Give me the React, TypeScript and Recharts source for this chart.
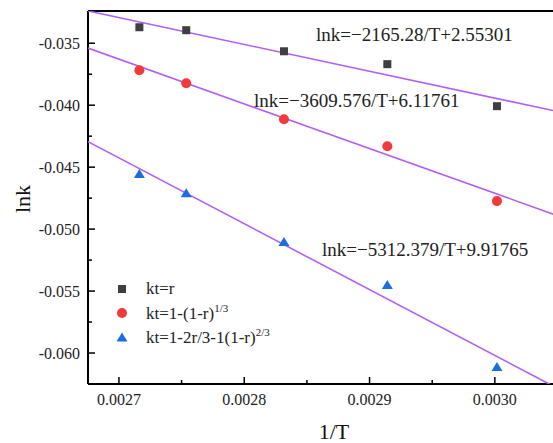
import { ComposedChart, XAxis, YAxis, Scatter, Legend, ReferenceLine } from "recharts";

// 1/T for the five temperatures (333–368 K)
const invT = [0.0027163, 0.0027537, 0.0028317, 0.0029142, 0.0030017];

// lnk for each kinetic model
const lnkR = [-0.03371, -0.03395, -0.03565, -0.03669, -0.04008];
const lnkR13 = [-0.03718, -0.03823, -0.04113, -0.04331, -0.04774];
const lnkR23 = [-0.04556, -0.0471, -0.05105, -0.05452, -0.06113];

// linear fits lnk = a/T + b (axis is plotted in units of 1/100)
const fitSlope = [-2165.28, -3609.576, -5312.379];
const fitIntercept = [2.55301, 6.11761, 9.91765];
const fitLabels = [
  "lnk=\u22122165.28/T+2.55301",
  "lnk=\u22123609.576/T+6.11761",
  "lnk=\u22125312.379/T+9.91765",
];
const fitScale = 0.01;

const xDomain = [0.0026753, 0.003052];
const yDomain = [-0.0625, -0.0324];
const xTicks = [0.0027, 0.00275, 0.0028, 0.00285, 0.0029, 0.00295, 0.003];
const yTicks = [
  -0.06, -0.0575, -0.055, -0.0525, -0.05, -0.0475, -0.045,
  -0.0425, -0.04, -0.0375, -0.035,
];

const legendItems = [
  { base: "kt=r", sup: "" },
  { base: "kt=1-(1-r)", sup: "1/3" },
  { base: "kt=1-2r/3-1(1-r)", sup: "2/3" },
];

const FONT = "'Liberation Serif', 'Times New Roman', serif";
const FIT_COLOR = "#b160f4";
const colors = ["#3f3f3f", "#f23a3a", "#1a6ee0"];

const toPoints = (ys: number[]) => invT.map((x, i) => ({ x, y: ys[i] }));
const fitLine = (k: number) =>
  xDomain.map((x) => ({ x, y: (fitSlope[k] * x + fitIntercept[k]) * fitScale }));

const isMajor = (v: number, step: number) => Math.abs(v / step - Math.round(v / step)) < 1e-6;

const XTick = (props: any) => {
  const { x, y, payload } = props;
  const major = isMajor(payload.value, 0.0001);
  return (
    <g>
      <line x1={x} x2={x} y1={y} y2={y - (major ? 7 : 4)} stroke="#000" strokeWidth={1.5} />
      {major && (
        <text x={x} y={y + 21} textAnchor="middle" fontSize={16} fontFamily={FONT} fill="#222">
          {payload.value.toFixed(4)}
        </text>
      )}
    </g>
  );
};

const YTick = (props: any) => {
  const { x, y, payload } = props;
  const major = isMajor(payload.value, 0.005);
  return (
    <g>
      <line x1={x} x2={x + (major ? 7 : 4)} y1={y} y2={y} stroke="#000" strokeWidth={1.5} />
      {major && (
        <text x={x - 8} y={y + 5.5} textAnchor="end" fontSize={16} fontFamily={FONT} fill="#222">
          {payload.value.toFixed(3)}
        </text>
      )}
    </g>
  );
};

const Square = (p: any) => <rect x={p.cx - 4} y={p.cy - 4} width={8} height={8} fill={colors[0]} />;
const Dot = (p: any) => <circle cx={p.cx} cy={p.cy} r={5} fill={colors[1]} />;
const Tri = (p: any) => (
  <path d={`M${p.cx},${p.cy - 5} L${p.cx + 5.5},${p.cy + 4} L${p.cx - 5.5},${p.cy + 4} Z`} fill={colors[2]} />
);
const NoMark = () => null;

const legendIcons = [
  <rect x={3} y={3} width={8} height={8} fill={colors[0]} />,
  <circle cx={7} cy={7} r={5} fill={colors[1]} />,
  <path d="M7,2.5 L12.5,11.5 L1.5,11.5 Z" fill={colors[2]} />,
];

const LegendBox = () => (
  <div style={{ fontFamily: FONT, fontSize: 17, color: "#222" }}>
    {legendItems.map((it, i) => (
      <div key={it.base} style={{ display: "flex", alignItems: "center", height: 24 }}>
        <svg width={14} height={14} style={{ marginRight: 17 }}>
          {legendIcons[i]}
        </svg>
        <span>
          {it.base}
          {it.sup && <sup style={{ fontSize: 11 }}>{it.sup}</sup>}
        </span>
      </div>
    ))}
  </div>
);

export default function App() {
  return (
    <div style={{ position: "absolute", left: 0, top: 0, width: 553, height: 443, overflow: "hidden", background: "#fff" }}>
      <ComposedChart width={600} height={443} margin={{ top: 11, right: 40, left: 0, bottom: 0 }}>
        <XAxis
          type="number"
          dataKey="x"
          domain={xDomain}
          ticks={xTicks}
          interval={0}
          allowDataOverflow
          height={59}
          tickSize={0}
          tickMargin={0}
          tickLine={false}
          tick={<XTick />}
          axisLine={{ stroke: "#000", strokeWidth: 2 }}
        />
        <YAxis
          type="number"
          dataKey="y"
          domain={yDomain}
          ticks={yTicks}
          interval={0}
          allowDataOverflow
          width={88}
          tickSize={0}
          tickMargin={0}
          tickLine={false}
          tick={<YTick />}
          axisLine={{ stroke: "#000", strokeWidth: 2 }}
        />
        <ReferenceLine y={yDomain[1]} stroke="#000" strokeWidth={2} />

        {[0, 1, 2].map((k) => (
          <Scatter
            key={`fit${k}`}
            data={fitLine(k)}
            shape={NoMark}
            line={{ stroke: FIT_COLOR, strokeWidth: 1.6 }}
            isAnimationActive={false}
            legendType="none"
          />
        ))}
        <Scatter name={legendItems[0].base} data={toPoints(lnkR)} shape={Square} isAnimationActive={false} />
        <Scatter name={legendItems[1].base} data={toPoints(lnkR13)} shape={Dot} isAnimationActive={false} />
        <Scatter name={legendItems[2].base} data={toPoints(lnkR23)} shape={Tri} isAnimationActive={false} />

        <Legend
          layout="vertical"
          align="center"
          verticalAlign="middle"
          content={<LegendBox />}
          wrapperStyle={{ left: 115, top: 277, width: "auto", height: "auto" }}
        />
      </ComposedChart>

      <svg width={553} height={443} style={{ position: "absolute", left: 0, top: 0, pointerEvents: "none" }}>
        <g fontFamily={FONT} fontSize={19} fill="#222">
          <text x={316} y={41}>{fitLabels[0]}</text>
          <text x={254} y={107}>{fitLabels[1]}</text>
          <text x={322} y={256}>{fitLabels[2]}</text>
        </g>
        <text x={30} y={199} transform="rotate(-90 30 199)" textAnchor="middle" fontFamily={FONT} fontSize={22} fill="#111">
          lnk
        </text>
        <text x={334} y={439} textAnchor="middle" fontFamily={FONT} fontSize={22} fill="#111">
          1/T
        </text>
      </svg>
    </div>
  );
}
